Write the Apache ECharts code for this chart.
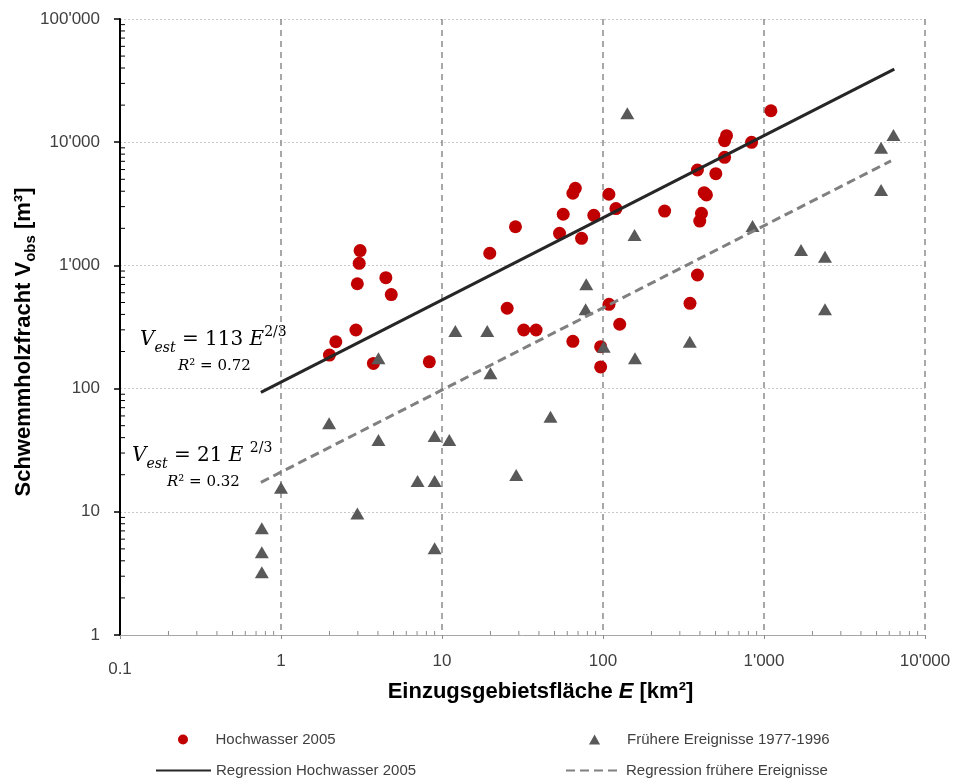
<!DOCTYPE html>
<html>
<head>
<meta charset="utf-8">
<script src="https://cdn.jsdelivr.net/npm/echarts@6/dist/echarts.min.js"></script>
<style>
  html, body { margin: 0; padding: 0; background: #fff; }
  #chart { width: 956px; height: 782px; }
</style>
</head>
<body>
<div id="chart"></div>
<script>
// Hochwasser 2005: Einzugsgebietsfläche E [km²] und Schwemmholzfracht V [m³]
const hochwasserE = [2.0, 2.19, 2.92, 2.98, 3.06, 3.1, 3.75, 4.48, 4.84, 8.34,
  19.8, 25.4, 28.6, 32.2, 38.4, 53.7, 56.6, 65, 67.3, 65,
  73.6, 87.7, 96.7, 96.7, 108.8, 109, 120.3, 127, 241.5, 347,
  386, 386, 399, 409, 425, 439, 502, 569, 569, 585, 837, 1104];
const hochwasserV = [187, 240, 299, 710, 1040, 1320, 160, 795, 580, 165,
  1255, 449, 2060, 299, 299, 1820, 2600, 3850, 4230, 242,
  1660, 2550, 219, 150, 3780, 483, 2890, 333, 2760, 492,
  5950, 836, 2290, 2650, 3890, 3730, 5550, 7540, 10290, 11290, 9970, 18000];

// Frühere Ereignisse 1977-1996
const fruehereE = [0.76, 0.76, 0.76, 1.0, 1.99, 2.98, 4.03, 4.03, 7.05, 9.0,
  9.0, 9.0, 11.1, 12.1, 19.1, 20, 28.9, 47.2, 78.7, 78,
  101, 141.6, 157, 158, 346, 849, 1698, 2393, 2393, 5335, 5335, 6370];
const fruehereV = [7.35, 4.7, 3.23, 15.7, 52.3, 9.7, 176, 38.3, 17.8, 41.2,
  17.8, 5.06, 38.3, 294, 294, 133, 19.9, 59, 703, 440,
  219, 17170, 1766, 176, 240, 2089, 1334, 1177, 440, 9020, 4090, 11430];

// Regressionen V_est = a * E^(2/3)
const regCoef = [113, 21];
const regR2 = [0.72, 0.32];
const regExpText = '2/3';
const regExp = 2 / 3;
const regStartE = [0.75, 0.75];
const regEndE = [6450, 6150];

// Achsen
const xTickValues = [0.1, 1, 10, 100, 1000, 10000];
const xTickLabels = ['0.1', '1', '10', '100', "1'000", "10'000"];
const yTickValues = [1, 10, 100, 1000, 10000, 100000];
const yTickLabels = ['1', '10', '100', "1'000", "10'000", "100'000"];

const seriesNames = ['Hochwasser 2005', 'Frühere Ereignisse 1977-1996',
  'Regression Hochwasser 2005', 'Regression frühere Ereignisse'];

const X_MIN = xTickValues[0], X_MAX = xTickValues[xTickValues.length - 1];
const Y_MIN = yTickValues[0], Y_MAX = yTickValues[yTickValues.length - 1];

function labelFor(values, labels, v) {
  let best = 0, d = Infinity;
  values.forEach((t, i) => {
    const dd = Math.abs(Math.log10(v) - Math.log10(t));
    if (dd < d) { d = dd; best = i; }
  });
  return labels[best];
}

function zip(a, b) { return a.map((x, i) => [x, b[i]]); }

function regLine(i) {
  return [regStartE[i], regEndE[i]].map(e => [e, regCoef[i] * Math.pow(e, regExp)]);
}

// Minor ticks (2..9 within each decade), placed through the axis scales
function minorValues(lo, hi) {
  const out = [];
  for (let d = lo; d < hi; d *= 10) {
    for (let m = 2; m <= 9; m++) out.push(+(m * d).toPrecision(3));
  }
  return out;
}

function minorTickSeries(axis) {
  const vals = axis === 'y' ? minorValues(Y_MIN, Y_MAX) : minorValues(X_MIN, X_MAX);
  return {
    type: 'custom',
    silent: true,
    clip: false,
    z: 6,
    data: vals.map(v => axis === 'y' ? [X_MIN, v] : [v, Y_MIN]),
    renderItem(params, api) {
      const p = api.coord([api.value(0), api.value(1)]);
      if (axis === 'y') {
        return { type: 'line', shape: { x1: p[0], y1: p[1], x2: p[0] + 5, y2: p[1] },
          style: { stroke: '#000', lineWidth: 1 } };
      }
      return { type: 'line', shape: { x1: p[0], y1: p[1], x2: p[0], y2: p[1] - 4 },
        style: { stroke: '#8c8c8c', lineWidth: 1 } };
    }
  };
}

const SANS = '"Liberation Sans", Arial, sans-serif';
const SERIF = '"DejaVu Serif", serif';

const eqRich = {
  v: { fontFamily: SERIF, fontStyle: 'italic', fontSize: 20, lineHeight: 30, color: '#262626' },
  n: { fontFamily: SERIF, fontSize: 20, lineHeight: 30, color: '#262626' },
  s: { fontFamily: SERIF, fontStyle: 'italic', fontSize: 14, lineHeight: 14, verticalAlign: 'bottom', color: '#262626' },
  p: { fontFamily: SERIF, fontSize: 14, lineHeight: 14, verticalAlign: 'top', color: '#262626' },
  ri: { fontFamily: SERIF, fontStyle: 'italic', fontSize: 15, color: '#262626' },
  rn: { fontFamily: SERIF, fontSize: 15, color: '#262626' }
};

function eqText(i, gap) {
  return '{v|V}{s|est}{n| = ' + regCoef[i] + ' }{v|E}' + (gap ? '{n| }' : '') + '{p|' + regExpText + '}';
}
function r2Text(i) {
  return '{ri|R}{rn|² = ' + regR2[i].toFixed(2) + '}';
}

const chart = echarts.init(document.getElementById('chart'), null, { renderer: 'canvas' });

const legendBase = {
  orient: 'horizontal',
  itemWidth: 55,
  itemHeight: 10,
  itemGap: 0,
  padding: 0,
  selectedMode: false,
  symbolKeepAspect: true,
  textStyle: { fontFamily: SANS, fontSize: 15, color: '#404040' }
};

const lineIconStyle = { opacity: 0 };

chart.setOption({
  animation: false,
  backgroundColor: '#fff',
  grid: { left: 120, right: 31, top: 19, bottom: 147, containLabel: false, outerBoundsMode: 'none' },
  legend: [
    Object.assign({}, legendBase, { left: 178, top: 732,
      data: [{ name: seriesNames[0], icon: 'circle' }] }),
    Object.assign({}, legendBase, { left: 589, top: 732,
      data: [{ name: seriesNames[1], icon: 'path://M5,0L10,9L0,9Z' }] }),
    Object.assign({}, legendBase, { left: 155, top: 763,
      data: [{ name: seriesNames[2], itemStyle: lineIconStyle }] }),
    Object.assign({}, legendBase, { left: 565, top: 763,
      data: [{ name: seriesNames[3], itemStyle: lineIconStyle }] })
  ],
  xAxis: {
    type: 'log',
    logBase: 10,
    min: X_MIN,
    max: X_MAX,
    name: '{b|Einzugsgebietsfläche }{i|E}{b| [km²]}',
    nameLocation: 'middle',
    nameGap: 46,
    nameMoveOverlap: false,
    nameTextStyle: {
      padding: [0, 0, 0, 36],
      rich: {
        b: { fontFamily: SANS, fontWeight: 'bold', fontSize: 22, color: '#000' },
        i: { fontFamily: SANS, fontWeight: 'bold', fontStyle: 'italic', fontSize: 22, color: '#000' }
      }
    },
    axisLine: { show: true, lineStyle: { color: '#a6a6a6', width: 1 } },
    axisTick: { show: true, inside: false, length: 4, lineStyle: { color: '#8c8c8c', width: 1 } },
    axisLabel: {
      margin: 18,
      fontFamily: SANS, fontSize: 17, color: '#404040',
      formatter: v => {
        const t = labelFor(xTickValues, xTickLabels, v);
        return v < 0.5 ? '{low|' + t + '}' : t;
      },
      rich: { low: { fontFamily: SANS, fontSize: 17, color: '#404040', padding: [8, 0, 0, 0] } }
    },
    splitLine: { show: true, lineStyle: { color: '#8c8c8c', width: 1.5, type: [6, 5] } },
    minorTick: { show: false },
    minorSplitLine: { show: false }
  },
  yAxis: {
    type: 'log',
    logBase: 10,
    min: Y_MIN,
    max: Y_MAX,
    name: '{b|Schwemmholzfracht V}{s|obs}{b| [m³]}',
    nameLocation: 'middle',
    nameRotate: 90,
    nameGap: 82,
    nameMoveOverlap: false,
    nameTextStyle: {
      padding: [0, 30, 0, 0],
      rich: {
        b: { fontFamily: SANS, fontWeight: 'bold', fontSize: 22, lineHeight: 28, color: '#000' },
        s: { fontFamily: SANS, fontWeight: 'bold', fontSize: 15, lineHeight: 15, verticalAlign: 'bottom', color: '#000' }
      }
    },
    axisLine: { show: true, lineStyle: { color: '#000', width: 2 } },
    axisTick: { show: true, inside: false, length: 6, lineStyle: { color: '#000', width: 1.5 } },
    axisLabel: {
      margin: 20,
      fontFamily: SANS, fontSize: 17, color: '#404040',
      formatter: v => labelFor(yTickValues, yTickLabels, v)
    },
    splitLine: { show: true, lineStyle: { color: '#c8c8c8', width: 1, type: [2, 2] } },
    minorTick: { show: false },
    minorSplitLine: { show: false }
  },
  series: [
    {
      name: seriesNames[0],
      type: 'scatter',
      data: zip(hochwasserE, hochwasserV),
      symbol: 'circle',
      symbolSize: 13,
      itemStyle: { color: '#c00000', opacity: 1 },
      z: 3
    },
    {
      name: seriesNames[1],
      type: 'scatter',
      data: zip(fruehereE, fruehereV),
      symbol: 'triangle',
      symbolSize: [14, 12],
      itemStyle: { color: '#595959', opacity: 1 },
      z: 4
    },
    {
      name: seriesNames[2],
      type: 'line',
      data: regLine(0),
      symbol: 'none',
      lineStyle: { color: '#262626', width: 3 },
      itemStyle: { color: '#262626' },
      z: 5
    },
    {
      name: seriesNames[3],
      type: 'line',
      data: regLine(1),
      symbol: 'none',
      lineStyle: { color: '#808080', width: 3, type: [9, 5] },
      itemStyle: { color: '#808080' },
      z: 5
    },
    minorTickSeries('y'),
    minorTickSeries('x')
  ],
  graphic: [
    { type: 'text', left: 140, top: 325, z: 10, silent: true,
      style: { text: eqText(0, false), rich: eqRich } },
    { type: 'text', left: 178, top: 359, z: 10, silent: true,
      style: { text: r2Text(0), rich: eqRich } },
    { type: 'text', left: 132, top: 441, z: 10, silent: true,
      style: { text: eqText(1, true), rich: eqRich } },
    { type: 'text', left: 167, top: 475, z: 10, silent: true,
      style: { text: r2Text(1), rich: eqRich } }
  ]
});
</script>
</body>
</html>
